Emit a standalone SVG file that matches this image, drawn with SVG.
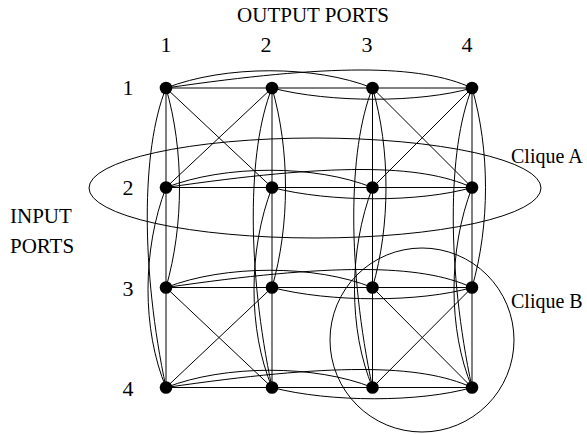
<svg xmlns="http://www.w3.org/2000/svg" width="587" height="434" viewBox="0 0 587 434">
<style>
.e{fill:none;stroke:#000;stroke-width:1}
.n{fill:#000}
.t{font-family:"Liberation Serif","Times New Roman",serif;font-size:20px;fill:#000}
.d{font-size:22px}
.h{font-size:21px}
.m{text-anchor:middle}
</style>
<rect width="587" height="434" fill="#fff"/>
<g id="labels">
<text class="t h m" x="313" y="22">OUTPUT PORTS</text>
<text class="t d m" x="166" y="52">1</text>
<text class="t d m" x="266" y="52">2</text>
<text class="t d m" x="367" y="52">3</text>
<text class="t d m" x="467" y="52">4</text>
<text class="t d m" x="128" y="95">1</text>
<text class="t d m" x="128" y="195">2</text>
<text class="t d m" x="128" y="296">3</text>
<text class="t d m" x="128" y="396">4</text>
<text class="t h" x="10" y="223">INPUT</text>
<text class="t h" x="10" y="253">PORTS</text>
<text class="t" x="511" y="163">Clique A</text>
<text class="t" x="511" y="308">Clique B</text>
</g>
<g id="connectors" class="e">
<path d="M166,88 H472 M166,187.5 H472 M166,287.5 H472 M166,387.5 H472"/>
<path d="M166,88 V387.5 M272,88 V387.5 M372.5,88 V387.5 M472,88 V387.5"/>
<path d="M166,88 C225,65 315,65 372.5,88 M166,88 C330,64 420,64 472,88 M272,88 C330,103 420,103 472,88"/>
<path d="M166,187.5 C225,164.5 315,164.5 372.5,187.5 M166,187.5 C330,163.5 420,163.5 472,187.5 M272,187.5 C330,202.5 420,202.5 472,187.5"/>
<path d="M166,287.5 C225,264.5 315,264.5 372.5,287.5 M166,287.5 C330,263.5 420,263.5 472,287.5 M272,287.5 C330,302.5 420,302.5 472,287.5"/>
<path d="M166,387.5 C225,364.5 315,364.5 372.5,387.5 M166,387.5 C330,363.5 420,363.5 472,387.5 M272,387.5 C330,402.5 420,402.5 472,387.5"/>
<path d="M166,88 C184,150 184,225 166,287.5 M166,88 C141,150 141,270 166,387.5 M166,187.5 C142,250 142,330 166,387.5"/>
<path d="M272,88 C290,150 290,225 272,287.5 M272,88 C247,150 247,270 272,387.5 M272,187.5 C248,250 248,330 272,387.5"/>
<path d="M372.5,88 C390.5,150 390.5,225 372.5,287.5 M372.5,88 C347.5,150 347.5,270 372.5,387.5 M372.5,187.5 C348.5,250 348.5,330 372.5,387.5"/>
<path d="M472,88 C490,150 490,225 472,287.5 M472,88 C447,150 447,270 472,387.5 M472,187.5 C448,250 448,330 472,387.5"/>
<path d="M166,88 L272,187.5 M272,88 L166,187.5 M372.5,88 L472,187.5 M472,88 L372.5,187.5"/>
<path d="M166,287.5 L272,387.5 M272,287.5 L166,387.5 M372.5,287.5 L472,387.5 M472,287.5 L372.5,387.5"/>
</g>
<g id="cliques" class="e">
<ellipse id="cliqueA" cx="315" cy="188" rx="226" ry="50"/>
<circle id="cliqueB" cx="422" cy="340" r="92"/>
</g>
<g id="n11"><circle class="n" cx="166" cy="88" r="6.3"/></g>
<g id="n12"><circle class="n" cx="272" cy="88" r="6.3"/></g>
<g id="n13"><circle class="n" cx="372.5" cy="88" r="6.3"/></g>
<g id="n14"><circle class="n" cx="472" cy="88" r="6.3"/></g>
<g id="n21"><circle class="n" cx="166" cy="187.5" r="6.3"/></g>
<g id="n22"><circle class="n" cx="272" cy="187.5" r="6.3"/></g>
<g id="n23"><circle class="n" cx="372.5" cy="187.5" r="6.3"/></g>
<g id="n24"><circle class="n" cx="472" cy="187.5" r="6.3"/></g>
<g id="n31"><circle class="n" cx="166" cy="287.5" r="6.3"/></g>
<g id="n32"><circle class="n" cx="272" cy="287.5" r="6.3"/></g>
<g id="n33"><circle class="n" cx="372.5" cy="287.5" r="6.3"/></g>
<g id="n34"><circle class="n" cx="472" cy="287.5" r="6.3"/></g>
<g id="n41"><circle class="n" cx="166" cy="387.5" r="6.3"/></g>
<g id="n42"><circle class="n" cx="272" cy="387.5" r="6.3"/></g>
<g id="n43"><circle class="n" cx="372.5" cy="387.5" r="6.3"/></g>
<g id="n44"><circle class="n" cx="472" cy="387.5" r="6.3"/></g>
</svg>
